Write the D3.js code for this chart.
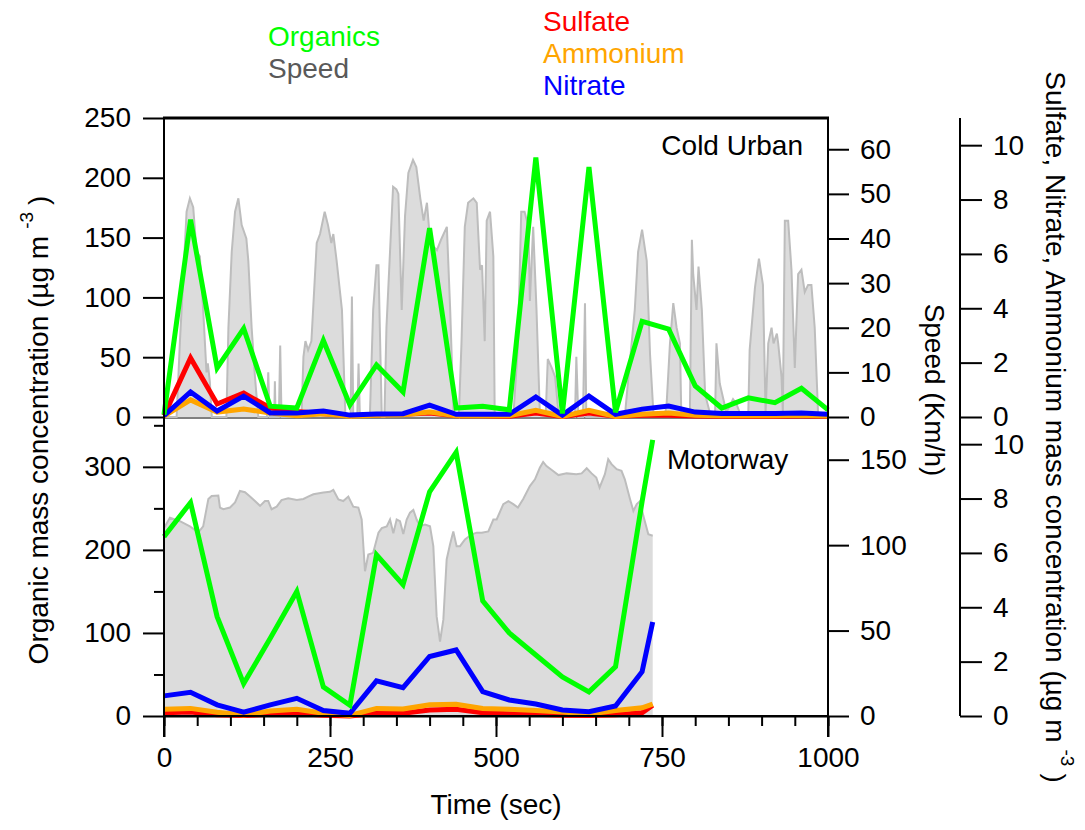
<!DOCTYPE html>
<html>
<head>
<meta charset="utf-8">
<script src="https://cdn.jsdelivr.net/npm/d3@7"></script>
<style>
  body { margin: 0; background: #fff; }
  svg text { font-family: "Liberation Sans", Arial, sans-serif; font-size: 28px; }
</style>
</head>
<body>
<div id="chart"></div>
<script>
// ---- data ----
// Cold Urban: aerosol samples every 40 s
var coldTimes = [0,40,80,120,160,200,240,280,320,360,400,440,480,520,560,600,640,680,720,760,800,840,880,920,960,1000]
var coldOrganics = [2,165,41,74,9,7.5,64,10,43.5,21,158,7.5,9,6,217,3,209,4,80,73.5,26,7.5,16,12,24,6]
var coldSulfate = [0.05,2.17,0.48,0.88,0.33,0.2,0.12,0.05,0.08,0.1,0.15,0.05,0.05,0.03,0.15,0.02,0.15,0.03,0.06,0.06,0.04,0.03,0.03,0.03,0.04,0.03]
var coldAmmonium = [0.03,0.63,0.18,0.29,0.15,0.05,0.12,0.03,0.06,0.08,0.18,0.05,0.05,0.05,0.25,0.02,0.25,0.02,0.1,0.15,0.06,0.05,0.05,0.05,0.06,0.04]
var coldNitrate = [0.05,0.92,0.22,0.77,0.15,0.15,0.22,0.07,0.11,0.12,0.44,0.1,0.1,0.1,0.74,0.07,0.77,0.1,0.29,0.4,0.18,0.13,0.13,0.13,0.15,0.1]
// Cold Urban speed trace [sec, km/h]
var coldSpeed = [[0,0],[19,0],[24,17],[29,31],[34,46],[39,49],[44,47],[49,37],[54,36],[59,24],[64,10],[66,12],[69,8],[72,0],
  [94,0],[97,20],[102,37],[107,46],[112,49],[117,43],[124,40],[127,35],[132,20],[137,9],[142,0],
  [155,0],[157,10],[159,0],[166,0],[167,8],[168,0],[173,0],[175,16],[177,0],
  [207,0],[210,13.5],[213,17],[217,15],[222,17],[230,39],[235,41],[242,46],[247,43],[252,39],[255,41],[260,35],[268,24],[273,1],
  [281,0],[283,27],[285,0],[291,0],[293,12],[295,0],
  [310,0],[315,24],[320,34],[323,34],[328,0],[332,0],[335,20],[345,51.6],[350,51],[353,50],[358,24],[363,45],[368,54.7],[375,57.6],[380,56],[386,49],[391,44],[396,48],[401,39],[411,37.4],[418,40],[426,42.6],[431,24],[436,1],[444,0],
  [448,16.5],[453,42.6],[458,48],[466,49],[471,48],[476,33],[479,34],[483,17],[486,44],[491,46],[496,36],[498,1],
  [526,0],[533,16],[538,46],[543,46],[549,42.6],[551,26],[556,42.6],[561,24],[566,1],
  [575,1],[578,13],[584,11],[589,9],[594,1],
  [619,0],[621,13.5],[624,0],[631,0],[634,25.5],[636,0],
  [694,0],[697,5],[709,24],[714,37],[720,42],[727,35],[732,14],[737,1],
  [755,1],[757,3],[762,16.5],[767,25.5],[772,20],[777,16.5],[779,1],[792,1],
  [795,39.7],[797,32],[802,24],[805,33.7],[810,24],[815,5],[822,1],
  [830,1],[832,16.5],[837,7.5],[847,1],[857,4],[862,3],[867,1],
  [880,1],[882,15],[890,29],[896,35.5],[902,29.6],[906,1],[910,16.5],[915,20],[918,16.5],[923,18.7],[925,16.5],[930,9],[932,1],
  [935,44],[940,44],[945,33],[950,11],[955,32],[960,33],[965,28],[970,29.6],[975,29.6],[980,20],[985,1],[1000,0]]

// Motorway: samples every 40 s, last one at end of trip
var motorTimes = [0,40,80,120,160,200,240,280,320,360,400,440,480,520,560,600,640,680,720,736]
var motorOrganics = [216,257,119.6,39,93.6,150,35,13,194,158,270,317.6,138.5,100,73.5,47,29,59.4,258,332.5]
var motorSulfate = [0.12,0.15,0.05,0.02,0.06,0.1,0.03,0,0.1,0.1,0.22,0.25,0.12,0.08,0.06,0.03,0.02,0.05,0.12,0.4]
var motorAmmonium = [0.25,0.28,0.14,0.04,0.18,0.25,0.1,0.02,0.28,0.26,0.41,0.43,0.28,0.25,0.2,0.15,0.07,0.2,0.3,0.44]
var motorNitrate = [0.74,0.87,0.41,0.14,0.41,0.65,0.2,0.1,1.29,1.04,2.19,2.43,0.9,0.59,0.44,0.22,0.16,0.37,1.63,3.46]
var motorSpeed = [[0,110],[9,116],[24,114],[39,111],[51.7,107.5],[59,111],[66.8,127],[71.8,128.8],[81.8,129],[84.3,122],[89.4,121],[99.4,122],[107,125],[114.4,131.7],[122,131],[129.5,128.5],[137,125.8],[144.6,123],[152,125.8],[157,125.8],[162,121],[169.7,122.5],[177,126.4],[187,127.4],[200,126.4],[210,127],[217,128.4],[225,129.8],[240,130.8],[250,131.2],[255,132.3],[262.6,126.8],[270,125.8],[277.6,128.4],[285,122.5],[292.7,122],[297.7,115],[302.7,84.7],[307.7,94.5],[315,95.5],[323,107.3],[328,110],[335.5,111],[340.4,115],[345.4,107],[350.4,115],[355.4,114],[360.4,106.5],[365.5,115],[370.5,119],[375.5,120.6],[380.5,115],[385.5,111],[393,112],[400.6,111],[405.6,99.4],[410.6,58.3],[415.7,43.6],[420.7,56.4],[425.7,91.6],[430.7,100.4],[435.7,108],[440.7,99.4],[445.8,99.4],[453.3,103.3],[463.4,106.3],[471,107.3],[478.5,107.3],[488.5,108],[496,115],[501,115],[511,124],[518.6,125.8],[526,124],[533,122],[541,127],[551,134.6],[558.7,138.5],[566,145.3],[571,148.7],[576,146.3],[584,144],[594,141],[606.4,142],[621,141.5],[629,142],[636.6,145],[644,142],[651,139.6],[656,133.7],[664,141.5],[669,150.3],[674,147.4],[681.7,144.5],[689,143.5],[694,138.5],[701.8,127],[706.9,120],[712,124],[717,125.8],[722,117],[729.4,106.4],[736,105.5]]

var timeTicks = [0,250,500,750,1000]

var colors = {organics: "#00ff00", speed: "#595959", sulfate: "#ff0000", ammonium: "#ffa500", nitrate: "#0000ff"}

// ---- layout ----
var svg = d3.select("#chart").append("svg")
    .attr("width", 1085)
    .attr("height", 830)

var x = d3.scaleLinear().domain([0, 1000]).range([164, 828])

var panels = [
  {name: "Cold Urban", top: 118, bottom: 417, orgMax: 250, spdMax: 67, inMax: 11,
   times: coldTimes, org: coldOrganics, so4: coldSulfate, nh4: coldAmmonium, no3: coldNitrate, speed: coldSpeed,
   orgTicks: [0,50,100,150,200,250], orgMinor: [], spdTicks: [0,10,20,30,40,50,60]},
  {name: "Motorway", top: 417, bottom: 716, orgMax: 360, spdMax: 175, inMax: 11,
   times: motorTimes, org: motorOrganics, so4: motorSulfate, nh4: motorAmmonium, no3: motorNitrate, speed: motorSpeed,
   orgTicks: [0,100,200,300], orgMinor: [50,150,250,350], spdTicks: [0,50,100,150]}
]

function styleAxis(g) {
  g.select(".domain").remove()
  g.selectAll("line").attr("stroke", "#000").attr("stroke-width", 2)
  g.selectAll("text").attr("font-size", 28).attr("font-family", "Liberation Sans, Arial, sans-serif").attr("fill", "#000")
}

panels.forEach(function(p) {
  var yOrg = d3.scaleLinear().domain([0, p.orgMax]).range([p.bottom, p.top])
  var ySpd = d3.scaleLinear().domain([0, p.spdMax]).range([p.bottom, p.top])
  var yIn = d3.scaleLinear().domain([0, p.inMax]).range([p.bottom, p.top])

  // zero line (mostly hidden under the speed trace)
  svg.append("line")
    .attr("x1", x(0)).attr("x2", x(1000))
    .attr("y1", p.bottom + 1).attr("y2", p.bottom + 1)
    .attr("stroke", "#000").attr("stroke-width", 1)

  // speed area
  svg.append("path")
    .datum(p.speed)
    .attr("fill", "#dcdcdc")
    .attr("d", d3.area().x(function(d){ return x(d[0]) }).y0(p.bottom).y1(function(d){ return ySpd(d[1]) }))
  svg.append("path")
    .datum(p.speed)
    .attr("fill", "none")
    .attr("stroke", "#bdbdbd")
    .attr("stroke-width", 2)
    .attr("d", d3.line().x(function(d){ return x(d[0]) }).y(function(d){ return ySpd(d[1]) }))

  var series = [
    {vals: p.so4, color: colors.sulfate, y: yIn},
    {vals: p.nh4, color: colors.ammonium, y: yIn},
    {vals: p.no3, color: colors.nitrate, y: yIn},
    {vals: p.org, color: colors.organics, y: yOrg}
  ]
  series.forEach(function(s) {
    svg.append("path")
      .datum(p.times.map(function(t, i){ return [t, s.vals[i]] }))
      .attr("fill", "none")
      .attr("stroke", s.color)
      .attr("stroke-width", 5)
      .attr("d", d3.line().x(function(d){ return x(d[0]) }).y(function(d){ return s.y(d[1]) }))
  })

  // left organics axis
  svg.append("g")
    .attr("transform", "translate(164,0)")
    .call(d3.axisLeft(yOrg).tickValues(p.orgTicks).tickSize(21).tickPadding(12))
    .call(styleAxis)
  if (p.orgMinor.length) {
    svg.append("g")
      .attr("transform", "translate(164,0)")
      .call(d3.axisLeft(yOrg).tickValues(p.orgMinor).tickSize(10).tickFormat(""))
      .call(styleAxis)
  }
  // right speed axis
  svg.append("g")
    .attr("transform", "translate(828,0)")
    .call(d3.axisRight(ySpd).tickValues(p.spdTicks).tickSize(21).tickPadding(11))
    .call(styleAxis)
  // inorganic axis
  svg.append("g")
    .attr("transform", "translate(960,0)")
    .call(d3.axisRight(yIn).tickValues([0,2,4,6,8,10]).tickSize(22).tickPadding(11))
    .call(styleAxis)
})

// frame lines
svg.append("line").attr("x1", 164).attr("x2", 164).attr("y1", 118).attr("y2", 737).attr("stroke", "#000").attr("stroke-width", 2)
svg.append("line").attr("x1", 828).attr("x2", 828).attr("y1", 118).attr("y2", 737).attr("stroke", "#000").attr("stroke-width", 2)
svg.append("line").attr("x1", 163).attr("x2", 829).attr("y1", 118).attr("y2", 118).attr("stroke", "#000").attr("stroke-width", 3)
svg.append("line").attr("x1", 164).attr("x2", 828).attr("y1", 716).attr("y2", 716).attr("stroke", "#000").attr("stroke-width", 2)
svg.append("line").attr("x1", 960).attr("x2", 960).attr("y1", 118).attr("y2", 716).attr("stroke", "#000").attr("stroke-width", 2)

// time axis
svg.append("g")
  .attr("transform", "translate(0,716)")
  .call(d3.axisBottom(x).tickValues(d3.range(0, 1001, 50)).tickSize(10).tickFormat(""))
  .call(styleAxis)
svg.append("g")
  .attr("transform", "translate(0,716)")
  .call(d3.axisBottom(x).tickValues(timeTicks).tickSize(21).tickPadding(10).tickFormat(d3.format("d")))
  .call(styleAxis)

// titles
svg.append("text").attr("x", 496).attr("y", 814).attr("text-anchor", "middle").text("Time (sec)")

function supTitle(x0, y0, rot, main) {
  var txt = svg.append("text")
    .attr("transform", "translate(" + x0 + "," + y0 + ") rotate(" + rot + ")")
    .attr("text-anchor", "middle")
  txt.append("tspan").text(main)
  txt.append("tspan").attr("dx", 7).attr("dy", -15).attr("font-size", 19).text("-3")
  txt.append("tspan").attr("dx", 7).attr("dy", 15).text(")")
}
supTitle(48, 430, -90, "Organic mass concentration (µg m")
supTitle(1046, 427, 90, "Sulfate, Nitrate, Ammonium mass concentration (µg m")

svg.append("text")
  .attr("transform", "translate(925,390) rotate(90)")
  .attr("text-anchor", "middle")
  .text("Speed (Km/h)")

// panel labels
svg.append("text").attr("x", 803).attr("y", 155).attr("text-anchor", "end").text("Cold Urban")
svg.append("text").attr("x", 667).attr("y", 469).text("Motorway")

// legend
var legend = [
  {label: "Organics", color: colors.organics, x: 268, y: 46},
  {label: "Speed", color: colors.speed, x: 268, y: 78},
  {label: "Sulfate", color: colors.sulfate, x: 543, y: 31},
  {label: "Ammonium", color: colors.ammonium, x: 543, y: 63},
  {label: "Nitrate", color: colors.nitrate, x: 543, y: 95}
]
svg.selectAll(".leg")
  .data(legend)
  .enter()
  .append("text")
    .attr("class", "leg")
    .attr("x", function(d){ return d.x })
    .attr("y", function(d){ return d.y })
    .attr("fill", function(d){ return d.color })
    .text(function(d){ return d.label })
</script>
</body>
</html>
